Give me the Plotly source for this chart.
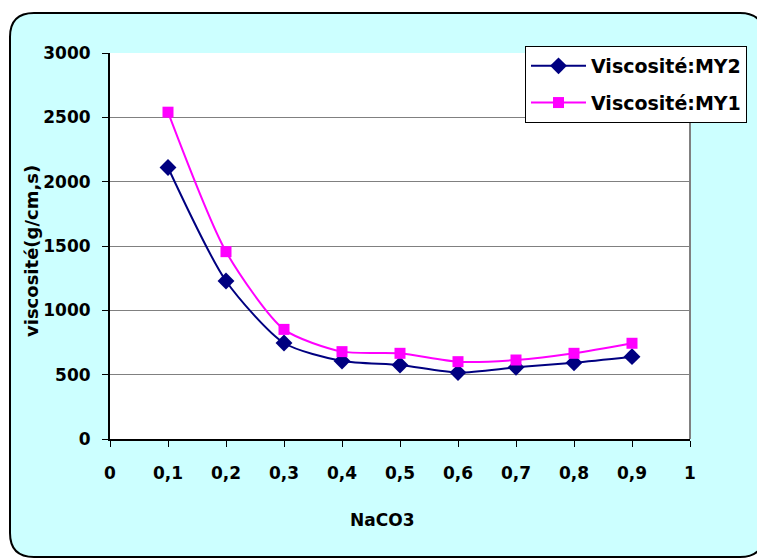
import plotly.graph_objects as go

# Data
naco3 = [0.1, 0.2, 0.3, 0.4, 0.5, 0.6, 0.7, 0.8, 0.9]
visc_my2 = [2110, 1228, 746, 606, 575, 516, 557, 593, 640]
visc_my1 = [2540, 1456, 852, 679, 666, 601, 614, 666, 744]
x_tickvals = [0, 0.1, 0.2, 0.3, 0.4, 0.5, 0.6, 0.7, 0.8, 0.9, 1]
x_ticktext = ["0", "0,1", "0,2", "0,3", "0,4", "0,5", "0,6", "0,7", "0,8", "0,9", "1"]
y_tickvals = [0, 500, 1000, 1500, 2000, 2500, 3000]

W, H = 757, 560
L, R, T, B = 110, 67, 53, 121
PW, PH = W - L - R, H - T - B

def px(x):
    return (x - L) / PW

def py(y):
    return (H - B - y) / PH

FONT = "DejaVu Sans"
FS = 17
fig = go.Figure()

fig.add_trace(go.Scatter(
    x=naco3, y=visc_my2, name="Viscosité:MY2", mode="lines+markers",
    line=dict(color="#000080", width=2, shape="spline", smoothing=0.7),
    marker=dict(symbol="diamond", size=13, color="#000080"),
    legendgroup="a",
))
fig.add_trace(go.Scatter(
    x=naco3, y=visc_my1, name="Viscosité:MY1", mode="lines+markers",
    line=dict(color="#FF00FF", width=2, shape="spline", smoothing=0.7),
    marker=dict(symbol="square", size=11, color="#FF00FF"),
    legendgroup="b",
))

# Rounded background frame
x0, x1, y0, y1, r = 10, 764, 13, 557, 24
path = (f"M {px(x0+r)},{py(y0)} L {px(x1-r)},{py(y0)} Q {px(x1)},{py(y0)} {px(x1)},{py(y0+r)} "
        f"L {px(x1)},{py(y1-r)} Q {px(x1)},{py(y1)} {px(x1-r)},{py(y1)} "
        f"L {px(x0+r)},{py(y1)} Q {px(x0)},{py(y1)} {px(x0)},{py(y1-r)} "
        f"L {px(x0)},{py(y0+r)} Q {px(x0)},{py(y0)} {px(x0+r)},{py(y0)} Z")
shapes = [
    dict(type="path", xref="paper", yref="paper", path=path,
         fillcolor="#CCFFFF", line=dict(color="black", width=2), layer="below"),
    dict(type="rect", xref="paper", yref="paper", x0=0, x1=1, y0=0, y1=1,
         fillcolor="white", line=dict(width=0), layer="below"),
    dict(type="line", xref="paper", yref="paper", x0=1, x1=1, y0=0, y1=1,
         line=dict(color="#808080", width=2)),
]

fig.update_layout(
    width=W, height=H, autosize=False,
    margin=dict(l=L, r=R, t=T, b=B, pad=0, autoexpand=False),
    paper_bgcolor="white", plot_bgcolor="rgba(0,0,0,0)",
    font=dict(family=FONT, size=FS, color="black", weight="bold"),
    shapes=shapes,
    showlegend=True,
    legend=dict(
        x=px(525), y=py(46), xanchor="left", yanchor="top",
        bgcolor="white", bordercolor="black", borderwidth=1,
        font=dict(family=FONT, size=19, color="black", weight="bold"),
        tracegroupgap=9, itemwidth=55,
    ),
    xaxis=dict(
        range=[0, 1], tickvals=x_tickvals, ticktext=x_ticktext,
        showgrid=False, zeroline=False,
        showline=True, linecolor="black", linewidth=2,
        ticks="outside", ticklen=6, tickcolor="black", tickwidth=1,
        ticklabelstandoff=12,
        tickfont=dict(family=FONT, size=FS, color="black", weight="bold"),
    ),
    yaxis=dict(
        range=[0, 3000], tickvals=y_tickvals,
        showgrid=True, gridcolor="#808080", gridwidth=1, zeroline=False,
        showline=True, linecolor="black", linewidth=2,
        ticks="outside", ticklen=6, tickcolor="black", tickwidth=1,
        ticklabelstandoff=8,
        tickfont=dict(family=FONT, size=FS, color="black", weight="bold"),
    ),
    annotations=[
        dict(text="viscosité(g/cm,s)", xref="paper", yref="paper",
             x=px(31), y=py(251), textangle=-90, showarrow=False,
             xanchor="center", yanchor="middle",
             font=dict(family=FONT, size=18, color="black", weight="bold")),
        dict(text="NaCO3", xref="paper", yref="paper",
             x=px(382), y=py(520), showarrow=False,
             xanchor="center", yanchor="middle",
             font=dict(family=FONT, size=FS, color="black", weight="bold")),
    ],
)

fig.write_html("out.html")
